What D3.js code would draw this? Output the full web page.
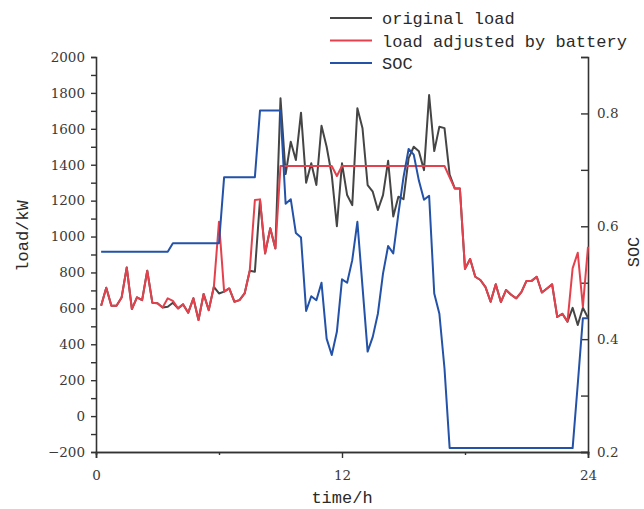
<!DOCTYPE html>
<html>
<head>
<meta charset="utf-8">
<script src="https://cdn.jsdelivr.net/npm/d3@7/dist/d3.min.js"></script>
<style>
    body { margin: 0; background: #fff; }
</style>
</head>
<body>
<div id="chart"></div>
<script>
// 15 min steps, first value at 0:15, last at 24:00
var originalLoad = [
    614, 715, 615, 615, 661, 828, 596, 661, 646, 810, 631, 628,
    605, 609, 631, 600, 622, 576, 656, 535, 680, 590, 720, 683,
    693, 711, 637, 646, 683, 810, 804, 1205, 906, 1046, 934, 1770,
    1348, 1528, 1426, 1690, 1300, 1408, 1287, 1617, 1500, 1343, 1058, 1408,
    1231, 1175, 1714, 1603, 1287, 1250, 1148, 1231, 1422, 1112, 1222, 1208,
    1437, 1500, 1475, 1370, 1788, 1476, 1612, 1604, 1345, 1268, 1268, 820,
    875, 776, 758, 718, 637, 734, 635, 702, 676, 656, 690, 753,
    753, 776, 688, 711, 734, 552, 570, 526, 603, 507, 603, 548
];
var adjustedLoad = [
    614, 715, 615, 615, 661, 828, 596, 661, 646, 810, 631, 628,
    605, 656, 642, 600, 622, 576, 656, 535, 680, 590, 720, 1083,
    693, 711, 637, 646, 683, 810, 1203, 1207, 906, 1046, 934, 1393,
    1393, 1393, 1393, 1393, 1393, 1393, 1393, 1393, 1393, 1393, 1337, 1393,
    1393, 1393, 1393, 1393, 1393, 1393, 1393, 1393, 1393, 1393, 1393, 1393,
    1393, 1393, 1393, 1393, 1393, 1393, 1393, 1393, 1330, 1268, 1268, 820,
    875, 776, 758, 718, 637, 734, 635, 702, 676, 656, 690, 753,
    753, 776, 688, 711, 734, 552, 570, 526, 823, 910, 609, 943
];
var soc = [
    0.555, 0.555, 0.555, 0.555, 0.555, 0.555, 0.555, 0.555, 0.555, 0.555, 0.555, 0.555,
    0.555, 0.555, 0.570, 0.570, 0.570, 0.570, 0.570, 0.570, 0.570, 0.570, 0.570, 0.570,
    0.687, 0.687, 0.687, 0.687, 0.687, 0.687, 0.687, 0.805, 0.805, 0.805, 0.805, 0.805,
    0.640, 0.648, 0.588, 0.580, 0.450, 0.476, 0.469, 0.500, 0.401, 0.372, 0.413, 0.506,
    0.500, 0.540, 0.608, 0.493, 0.378, 0.404, 0.445, 0.516, 0.565, 0.552, 0.622, 0.687,
    0.737, 0.727, 0.681, 0.647, 0.654, 0.481, 0.445, 0.348, 0.207, 0.207, 0.207, 0.207,
    0.207, 0.207, 0.207, 0.207, 0.207, 0.207, 0.207, 0.207, 0.207, 0.207, 0.207, 0.207,
    0.207, 0.207, 0.207, 0.207, 0.207, 0.207, 0.207, 0.207, 0.207, 0.320, 0.437, 0.437
];
var stepHours = 0.25;
var loadTicks = d3.range(-200, 2001, 100);
var socTicks = [0.2, 0.3, 0.4, 0.5, 0.6, 0.7, 0.8, 0.9];
var timeTicks = [0, 12, 24];
var timeMinorTicks = [6, 18];

var legendItems = [
    {name: "original load", color: "#454545", values: originalLoad, axis: "load"},
    {name: "load adjusted by battery", color: "#e5414c", values: adjustedLoad, axis: "load"},
    {name: "SOC", color: "#2352a8", values: soc, axis: "soc"}
];

var monoFont = "'Liberation Mono', 'DejaVu Sans Mono', monospace",
    serifFont = "'DejaVu Serif', serif";

var margin = {top: 57, right: 56, bottom: 57, left: 96},
    width = 644 - margin.left - margin.right,
    height = 509 - margin.top - margin.bottom;

var svg = d3.select("#chart").append("svg")
    .attr("width", 644)
    .attr("height", 509);

var g = svg.append("g")
    .attr("transform", "translate(" + margin.left + "," + margin.top + ")");

var x = d3.scaleLinear().domain([0, 24]).range([0, width]);
var yLoad = d3.scaleLinear().domain([-200, 2000]).range([height, 0]);
var ySoc = d3.scaleLinear().domain([0.2, 0.9]).range([height, 0]);

function styleAxis(sel) {
    sel.attr("font-family", serifFont).attr("font-size", 13.5);
    sel.select(".domain").attr("stroke", "#333").attr("stroke-width", 1.6);
    sel.selectAll(".tick line").attr("stroke", "#333").attr("stroke-width", 1.4);
    sel.selectAll(".tick text").attr("fill", "#3a3a3a");
}

/* axes */
g.append("g")
    .call(d3.axisLeft(yLoad)
        .tickValues(loadTicks)
        .tickSize(5)
        .tickPadding(6)
        .tickFormat(function (d) { return d % 200 === 0 ? d3.format("")(d) : ""; }))
    .call(styleAxis);

g.append("g")
    .attr("transform", "translate(" + width + ",0)")
    .call(d3.axisRight(ySoc)
        .tickValues(socTicks)
        .tickSize(-7)
        .tickPadding(9)
        .tickFormat(function (d) { return [0.2, 0.4, 0.6, 0.8].indexOf(d) > -1 ? d.toFixed(1) : ""; }))
    .call(styleAxis);

g.append("g")
    .attr("transform", "translate(0," + height + ")")
    .call(d3.axisBottom(x).tickValues(timeMinorTicks).tickSize(3).tickFormat(""))
    .call(styleAxis);

g.append("g")
    .attr("transform", "translate(0," + height + ")")
    .call(d3.axisBottom(x).tickValues(timeTicks).tickSize(6).tickPadding(12))
    .call(styleAxis);

/* lines */
legendItems.forEach(function (s) {
    var yScale = s.axis === "soc" ? ySoc : yLoad;
    var line = d3.line()
        .x(function (d, i) { return x((i + 1) * stepHours); })
        .y(function (d) { return yScale(d); });
    g.append("path")
        .datum(s.values)
        .attr("fill", "none")
        .attr("stroke", s.color)
        .attr("stroke-width", 2)
        .attr("stroke-linejoin", "round")
        .attr("d", line);
});

/* titles */
function title(sel) {
    sel.attr("font-family", monoFont)
        .attr("font-size", 17)
        .attr("fill", "#2a2a2a")
        .attr("text-anchor", "middle");
}

svg.append("text")
    .call(title)
    .attr("x", margin.left + width / 2)
    .attr("y", 503)
    .text("time/h");

svg.append("text")
    .call(title)
    .attr("transform", "translate(28,236) rotate(-90)")
    .text("load/kW");

svg.append("text")
    .call(title)
    .attr("transform", "translate(639,252) rotate(-90)")
    .text("SOC");

/* legend */
var legend = svg.append("g").attr("transform", "translate(330,18)");
legend.selectAll("g")
    .data(legendItems)
    .enter()
    .append("g")
    .attr("transform", function (d, i) { return "translate(0," + i * 22.5 + ")"; })
    .each(function (d) {
        var item = d3.select(this);
        item.append("line")
            .attr("x1", 0).attr("x2", 42)
            .attr("stroke", d.color)
            .attr("stroke-width", 2);
        item.append("text")
            .attr("font-family", monoFont)
            .attr("font-size", 17)
            .attr("fill", "#2a2a2a")
            .attr("x", 52)
            .attr("y", 6)
            .text(d.name);
    });
</script>
</body>
</html>
